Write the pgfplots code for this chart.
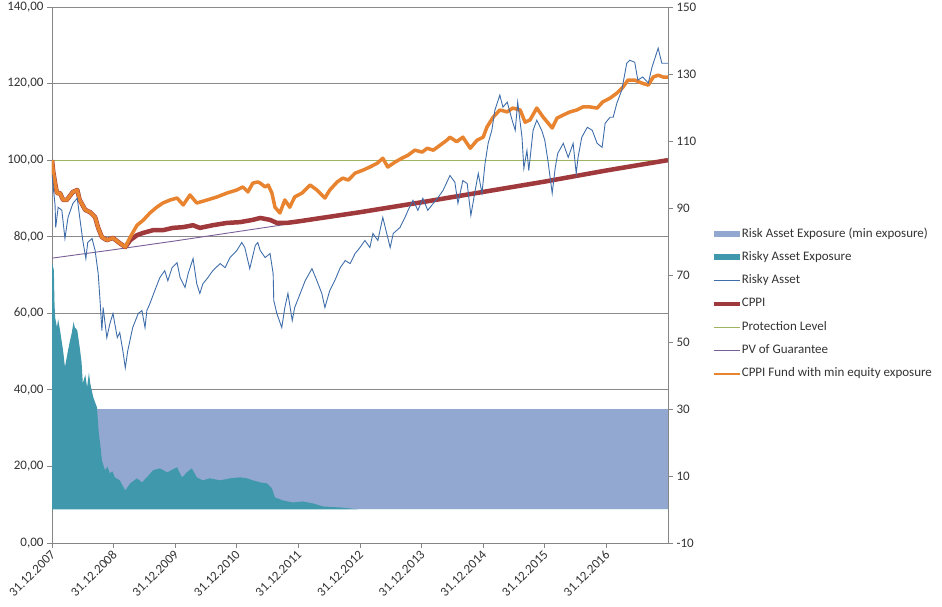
\documentclass[border=0pt]{standalone}
\usepackage{fontspec}
\setmainfont{Carlito}
\usepackage{pgfplots}
\pgfplotsset{compat=1.18}
\definecolor{axisgray}{HTML}{868686}
\definecolor{gridgray}{HTML}{8A8A8A}
\definecolor{textc}{HTML}{333333}
\definecolor{cppired}{HTML}{A0393C}
\definecolor{fundorange}{HTML}{E8832F}
\definecolor{riskblue}{HTML}{3F6DAA}
\definecolor{expteal}{HTML}{3F98AB}
\definecolor{minband}{HTML}{93A8D0}
\definecolor{protgreen}{HTML}{9FB25E}
\definecolor{pvpurple}{HTML}{7A5F96}
\pgfplotsset{
  linelegend/.style={legend image code/.code={\draw[##1] (0pt,0pt) -- (26pt,0pt);}},
  arealegend/.style={legend image code/.code={\fill[##1] (0pt,-3pt) rectangle (26pt,3pt);}},
  common/.style={
    at={(52pt,64pt)}, anchor=south west,
    scale only axis, width=616pt, height=536pt,
    xmin=0, xmax=10,
    tick align=outside, major tick length=5pt,
    axis line style={draw=axisgray, line width=0.8pt},
    every tick/.style={draw=axisgray, line width=0.8pt},
    tick label style={font=\fontsize{13}{15}\selectfont, text=textc},
  },
}
\begin{document}
\begin{tikzpicture}
\begin{axis}[common,
  ymin=0, ymax=140,
  axis x line*=bottom, axis y line*=left,
  xtick={0,1,2,3,4,5,6,7,8,9},
  xticklabels={31.12.2007,31.12.2008,31.12.2009,31.12.2010,31.12.2011,31.12.2012,31.12.2013,31.12.2014,31.12.2015,31.12.2016},
  xticklabel style={rotate=45, anchor=east, yshift=-4pt, xshift=1pt},
  ytick={0,20,40,60,80,100,120,140},
  yticklabels={{0,00},{20,00},{40,00},{60,00},{80,00},{100,00},{120,00},{140,00}},
  ymajorgrids,
  major grid style={color=gridgray, line width=0.9pt},
]
% PV of Guarantee
\addplot[pvpurple, line width=0.9pt] coordinates {(0,74.4) (1,76.6) (2,78.9) (3,81.3) (4,83.7) (5,86.2) (6,88.8) (7,91.5) (8,94.2) (9,97.1) (10,100.0)};
% Protection level
\addplot[protgreen, line width=0.8pt] coordinates {(0,100) (10,100)};
% CPPI
\addplot[cppired, line width=4.5pt, line join=round] coordinates {
(0.00,100.0) (0.02,97.0) (0.05,94.0) (0.08,91.4) (0.13,91.4) (0.18,89.6) (0.24,89.6) (0.34,91.7) (0.41,92.2) (0.45,89.6) (0.54,87.0) (0.62,86.4) (0.70,85.1) (0.75,82.3) (0.81,79.9) (0.89,79.1) (0.99,79.7) (1.10,78.3) (1.19,77.3)
(1.27,79.1) (1.38,80.4) (1.48,81.0) (1.64,81.7) (1.80,81.7) (1.96,82.3) (2.13,82.5) (2.29,83.0) (2.40,82.3) (2.61,83.0) (2.84,83.6) (3.05,83.8) (3.26,84.4) (3.38,84.9) (3.54,84.4) (3.65,83.6) (3.81,83.6) (4,84.0) (5,86.4) (6,89.0) (7,91.7) (8,94.4) (9,97.3) (10,100.0)};
% CPPI fund with min equity exposure
\addplot[fundorange, line width=3.5pt, line join=round] coordinates {
(0.00,100.0) (0.02,97.0) (0.05,94.0) (0.08,91.4) (0.13,91.4) (0.18,89.6) (0.24,89.6) (0.34,91.7) (0.41,92.2) (0.45,89.6) (0.54,87.0) (0.62,86.4) (0.70,85.1) (0.75,82.3) (0.81,79.9) (0.89,79.1) (0.99,79.7) (1.10,78.3) (1.19,77.3) (1.27,79.9) (1.38,83.0) (1.48,84.3) (1.59,86.2) (1.70,87.7) (1.80,88.8) (1.92,89.6) (2.03,90.1) (2.13,88.3) (2.24,90.9) (2.35,88.8) (2.52,89.6) (2.68,90.4) (2.84,91.4) (3.00,92.2) (3.10,93.0) (3.18,91.7) (3.26,94.0) (3.34,94.3) (3.38,94.0) (3.46,93.0) (3.51,93.5) (3.57,91.4) (3.62,87.7) (3.70,86.2) (3.78,89.6) (3.86,87.7) (3.94,90.4) (4.06,91.4) (4.19,93.5) (4.30,92.2) (4.43,90.1) (4.51,92.2) (4.63,94.3) (4.72,95.3) (4.81,94.8) (4.92,96.6) (5.05,97.4) (5.16,98.2) (5.28,99.2) (5.37,100.5) (5.45,98.2) (5.57,99.5) (5.68,100.5) (5.78,101.3) (5.89,102.6) (6.01,102.1) (6.09,103.1) (6.19,102.6) (6.30,103.9) (6.41,105.2) (6.46,106.0) (6.57,104.8) (6.67,106.0) (6.79,103.1) (6.90,105.2) (7.00,106.0) (7.06,108.6) (7.16,111.2) (7.27,113.1) (7.39,112.6) (7.48,113.6) (7.60,113.1) (7.68,109.9) (7.76,110.5) (7.87,113.6) (7.97,111.3) (8.12,108.4) (8.20,111.0) (8.30,111.8) (8.41,112.6) (8.52,113.1) (8.62,113.9) (8.73,113.9) (8.85,113.6) (8.94,115.2) (9.06,116.2) (9.17,117.5) (9.27,119.1) (9.35,120.9) (9.46,120.9) (9.58,120.1) (9.68,119.6) (9.76,121.7) (9.84,122.2) (9.92,121.7) (10.00,121.7)};
\end{axis}
\begin{axis}[common,
  ymin=-10, ymax=150,
  axis x line=none, axis y line*=right,
  ytick={-10,10,30,50,70,90,110,130,150},
  yticklabels={-10,10,30,50,70,90,110,130,150},
  legend style={at={(1.070,0.588)}, anchor=north west, draw=none, fill=none,
    inner sep=0pt, row sep=11.3pt, font=\fontsize{13}{15}\selectfont,
    text=textc, nodes={inner sep=0pt, text height=9pt, text depth=3pt},
    /tikz/every even column/.append style={column sep=2pt}},
  legend cell align=left,
]
\addplot[draw=none, fill=minband, arealegend] coordinates {(0,0) (0,30) (10,30) (10,0)};
\addlegendentry{Risk Asset Exposure (min exposure)}
\addplot[draw=none, fill=expteal, arealegend] coordinates {
(0,0) (0.00,73.6) (0.03,71.5) (0.04,62.0) (0.05,57.4) (0.08,54.4) (0.10,56.8) (0.13,53.5) (0.18,47.5) (0.21,42.5) (0.26,47.5) (0.29,50.2) (0.32,52.6) (0.35,56.0) (0.37,54.4) (0.41,53.5) (0.45,48.4) (0.48,44.0) (0.50,37.7) (0.54,40.2) (0.57,36.5) (0.60,40.9) (0.62,37.7) (0.67,33.5) (0.73,30.5) (0.76,22.7) (0.79,18.5) (0.81,14.7) (0.86,11.7) (0.90,12.8) (0.94,10.8) (0.98,11.4) (1.02,9.6) (1.10,8.7) (1.19,5.7) (1.27,7.8) (1.38,9.3) (1.46,8.1) (1.54,9.6) (1.64,11.7) (1.75,12.3) (1.87,11.1) (2.03,12.6) (2.11,9.6) (2.19,11.1) (2.27,12.3) (2.35,9.6) (2.45,8.7) (2.56,9.3) (2.73,8.7) (2.89,9.3) (3.05,9.6) (3.17,9.3) (3.26,8.7) (3.38,8.1) (3.49,7.8) (3.57,6.3) (3.62,3.6) (3.75,2.7) (3.91,2.1) (4.07,2.4) (4.24,1.8) (4.40,0.9) (4.68,0.6) (5.00,0.0) (10,0)};
\addlegendentry{Risky Asset Exposure}
\addplot[riskblue, line width=0.9pt, linelegend] coordinates {
(0.00,100.0) (0.05,90.8) (0.06,84.2) (0.10,90.2) (0.16,89.3) (0.21,80.9) (0.26,87.2) (0.34,91.4) (0.41,92.9) (0.45,87.2) (0.50,80.3) (0.55,74.9) (0.58,79.7) (0.65,80.9) (0.70,77.3) (0.75,70.4) (0.78,62.4) (0.81,53.4) (0.83,60.3) (0.89,51.3) (0.94,55.5) (0.99,58.5) (1.06,51.3) (1.10,52.8) (1.15,47.4) (1.19,42.3) (1.23,47.4) (1.31,54.3) (1.40,58.5) (1.46,59.4) (1.51,54.3) (1.54,59.4) (1.59,61.5) (1.67,65.4) (1.75,69.2) (1.83,71.3) (1.88,68.3) (1.95,72.2) (2.03,73.7) (2.08,69.2) (2.16,66.3) (2.21,70.4) (2.29,74.9) (2.35,67.4) (2.40,64.5) (2.45,67.4) (2.53,69.2) (2.61,71.3) (2.73,73.4) (2.81,72.2) (2.89,75.2) (3.00,77.3) (3.08,79.7) (3.13,78.2) (3.21,71.9) (3.30,78.8) (3.34,79.7) (3.38,77.3) (3.46,75.2) (3.54,76.4) (3.59,70.4) (3.60,62.4) (3.65,58.5) (3.69,56.4) (3.73,54.3) (3.78,60.3) (3.83,64.5) (3.90,56.4) (3.94,60.3) (4.03,64.5) (4.11,68.3) (4.22,71.9) (4.30,68.3) (4.38,64.5) (4.43,60.3) (4.51,65.4) (4.59,68.3) (4.68,72.2) (4.76,74.3) (4.84,73.4) (4.92,76.4) (5.00,78.2) (5.08,80.3) (5.16,78.2) (5.21,82.4) (5.29,80.3) (5.37,87.2) (5.49,78.2) (5.54,82.4) (5.65,84.2) (5.73,87.2) (5.78,89.3) (5.86,92.3) (5.94,89.3) (6.02,92.9) (6.10,89.3) (6.19,91.4) (6.27,93.2) (6.35,95.3) (6.46,99.7) (6.54,97.7) (6.59,91.4) (6.67,98.2) (6.74,97.3) (6.80,87.8) (6.87,95.3) (6.92,100.3) (6.98,94.4) (7.03,103.3) (7.08,109.3) (7.14,113.2) (7.19,119.2) (7.27,123.7) (7.32,120.1) (7.39,121.6) (7.47,116.2) (7.52,113.2) (7.56,121.6) (7.63,111.1) (7.66,101.8) (7.71,107.2) (7.74,101.2) (7.81,113.2) (7.87,116.2) (7.95,113.2) (8.00,110.2) (8.05,104.2) (8.12,94.4) (8.17,102.1) (8.21,106.3) (8.30,109.3) (8.38,105.1) (8.46,109.3) (8.51,100.3) (8.54,105.1) (8.60,111.1) (8.69,114.1) (8.77,113.2) (8.85,109.3) (8.93,108.1) (8.98,115.3) (9.06,117.1) (9.11,117.1) (9.17,121.3) (9.25,125.2) (9.33,133.2) (9.38,134.1) (9.46,133.5) (9.51,128.2) (9.59,129.1) (9.68,127.3) (9.74,132.0) (9.84,137.7) (9.90,133.2) (10.00,133.2)};
\addlegendentry{Risky Asset}
\addlegendimage{cppired, line width=4.5pt, linelegend}
\addlegendentry{CPPI}
\addlegendimage{protgreen, line width=0.8pt, linelegend}
\addlegendentry{Protection Level}
\addlegendimage{pvpurple, line width=0.9pt, linelegend}
\addlegendentry{PV of Guarantee}
\addlegendimage{fundorange, line width=2pt, linelegend}
\addlegendentry{CPPI Fund with min equity exposure}
\end{axis}
\pgfresetboundingbox
\path[use as bounding box] (0,0) rectangle (942pt,607pt);
\end{tikzpicture}
\end{document}
